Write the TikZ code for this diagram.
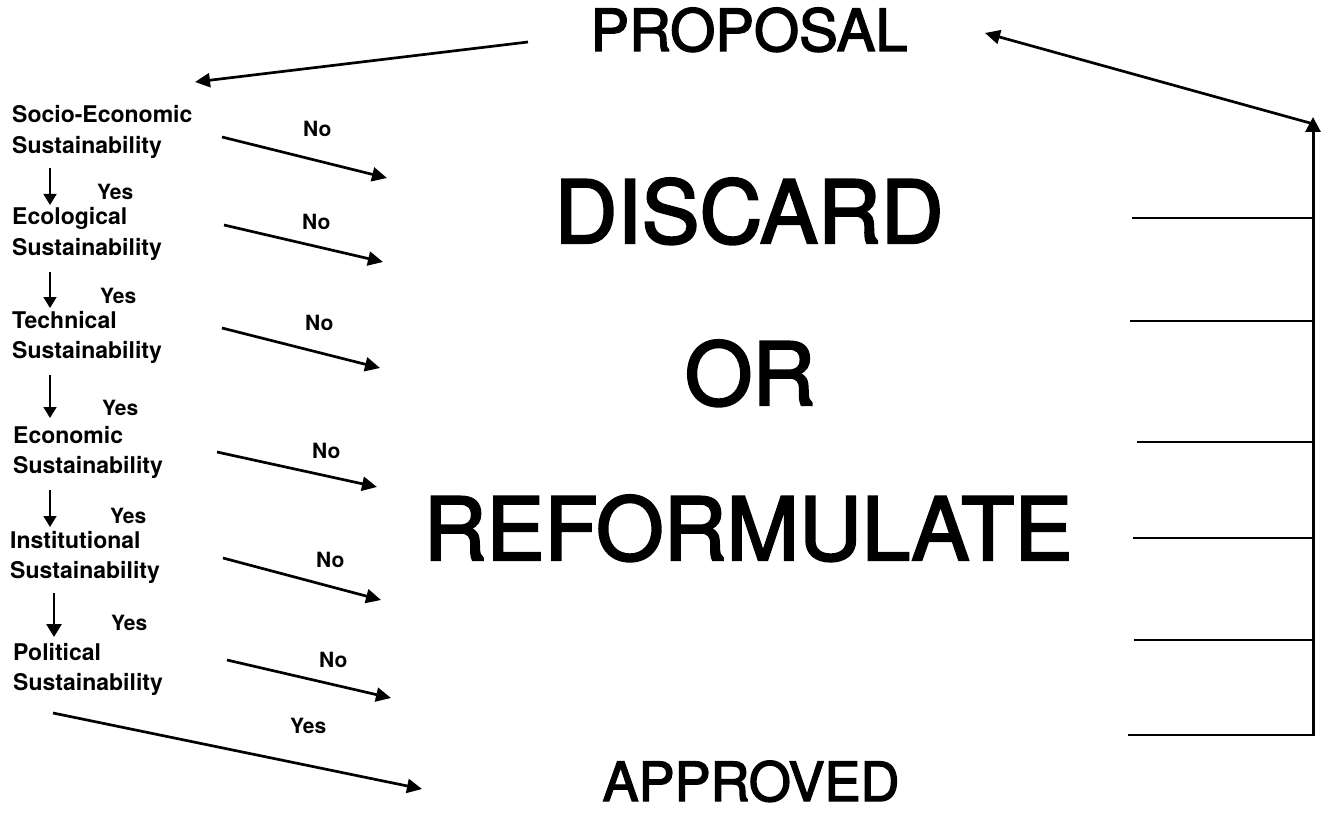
\documentclass[tikz,border=0pt]{standalone}
\usepackage{fontspec}
\setmainfont{TeX Gyre Heros}
\newfontfamily\headfont[FakeBold=2.5]{TeX Gyre Heros}
\usetikzlibrary{arrows.meta}
\begin{document}
\begin{tikzpicture}[x=1pt,y=-1pt,
  line/.style={line width=2.2pt},
  arr/.style={line width=2.7pt,-{Triangle[length=15pt,width=14pt]}},
  downarr/.style={line width=1.6pt,-{Triangle[length=11pt,width=13pt]}},
  lbl/.style={anchor=base west,inner sep=0pt,font=\bfseries\fontsize{23}{30.5}\selectfont},
  yn/.style={anchor=base west,inner sep=0pt,font=\bfseries\fontsize{21}{25}\selectfont},
  big/.style={anchor=base,inner sep=0pt,font=\headfont\fontsize{87}{90}\selectfont},
  head/.style={anchor=base,inner sep=0pt,text depth=0pt}]
\useasboundingbox (0,0) rectangle (1323,813);

% headings
\node[head,font=\headfont\fontsize{58}{60}\selectfont] (proposal) at (749,51) {PROPOSAL};
\node[head,font=\headfont\fontsize{54}{56}\selectfont] (approved) at (751,801) {APPROVED};
\node[big] (discard) at (749,243) {DISCARD};
\node[big] (or) at (750,405) {OR};
\node[big] (reform) at (748,560) {REFORMULATE};

% sustainability criteria
\newcommand{\crit}[1]{\parbox[t]{220pt}{\raggedright #1}}
\node[lbl] (se)   at (12,123) {\crit{Socio-Economic\\Sustainability}};
\node[lbl] (eco)  at (12,225) {\crit{Ecological\\Sustainability}};
\node[lbl] (tec)  at (12,328) {\crit{Technical\\Sustainability}};
\node[lbl] (econ) at (13,443) {\crit{Economic\\Sustainability}};
\node[lbl] (inst) at (10,548) {\crit{Institutional\\Sustainability}};
\node[lbl] (pol)  at (13,660) {\crit{Political\\Sustainability}};

% Yes / No labels
\node[yn] (y1) at (97,200) {Yes};
\node[yn] (y2) at (100,303) {Yes};
\node[yn] (y3) at (102,415) {Yes};
\node[yn] (y4) at (110,523) {Yes};
\node[yn] (y5) at (111,630) {Yes};
\node[yn] (yfin) at (290,733) {Yes};
\node[yn] (n1) at (303,137) {No};
\node[yn] (n2) at (302,230) {No};
\node[yn] (n3) at (305,330) {No};
\node[yn] (n4) at (312,458) {No};
\node[yn] (n5) at (316,567) {No};
\node[yn] (n6) at (319,667) {No};

% Yes path downwards
\foreach \i/\x/\ya/\yb in {1/50/168/205, 2/50/272/308, 3/50/375/418, 4/50/490/527} {
  \coordinate (ds\i) at (\x,\ya);
  \coordinate (de\i) at (\x,\yb);
  \draw[downarr] (ds\i) -- (de\i);
}
\coordinate (ds5) at (54,593);
\coordinate (de5) at (54,637);
\draw[line width=2.8pt,-{Triangle[length=13pt,width=15pt]}] (ds5) -- (de5);

% No branches
\foreach \i/\xa/\ya/\xb/\yb in {1/222/137/387/178, 2/224/225/383/262, 3/222/328/380/368,
                                4/217/452/377/487, 5/223/558/381/600, 6/227/660/391/698} {
  \coordinate (ns\i) at (\xa,\ya);
  \coordinate (ne\i) at (\xb,\yb);
  \draw[arr] (ns\i) -- (ne\i);
}

% final approval
\coordinate (apps) at (53,713);
\coordinate (appe) at (422,789);
\draw[arr] (apps) -- (appe);

% proposal to first criterion
\coordinate (propout) at (528,42);
\coordinate (listtop) at (195,82);
\draw[arr] (propout) -- (listtop);

% feedback loop on the right
\foreach \i/\x/\y in {1/1132/218, 2/1130/321, 3/1137/442, 4/1133/538, 5/1134/640, 6/1128/735} {
  \coordinate (fa\i) at (\x,\y);
  \coordinate (fb\i) at (1313,\y);
  \draw[line] (fa\i) -- (fb\i);
}
\coordinate (loopbot) at (1313,736);
\coordinate (looptop) at (1313,117);
\draw[line width=3pt,-{Triangle[length=15pt,width=15pt]}] (loopbot) -- (looptop);
\coordinate (loopstart) at (1310,123);
\coordinate (proptip) at (985,33);
\draw[arr] (loopstart) -- (proptip);
\end{tikzpicture}
\end{document}
